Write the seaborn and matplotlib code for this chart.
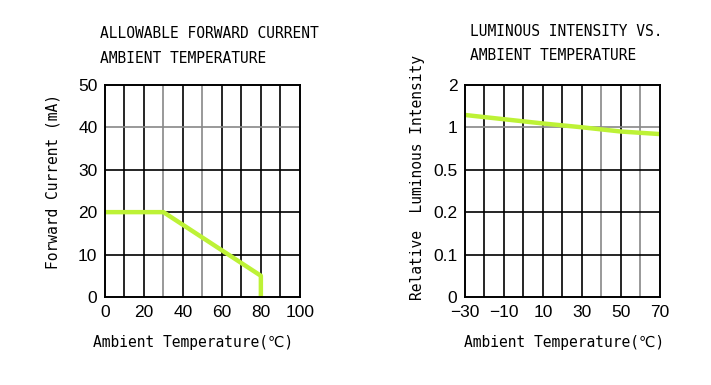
import numpy as np
import pandas as pd
import matplotlib
matplotlib.use("Agg")
import matplotlib.pyplot as plt
import seaborn as sns

# Allowable forward current vs ambient temperature
temp_if = [0, 30, 80, 80]
current_if = [20, 20, 5, 0]

# Relative luminous intensity vs ambient temperature
temp_iv = [-30, -10, 10, 30, 50, 70]
intensity_iv = [1.29, 1.19, 1.09, 1.0, 0.95, 0.92]

# y-axis of the right chart: uneven values on evenly spaced gridlines
iv_ticks = [0, 0.1, 0.2, 0.5, 1, 2]
iv_labels = ["0", "0.1", "0.2", "0.5", "1", "2"]

sns.set_style("white")
plt.rcParams['font.family'] = ['DejaVu Sans Mono', 'DejaVu Sans', 'Noto Sans CJK JP']
plt.rcParams['text.color'] = 'black'
plt.rcParams['axes.labelcolor'] = 'black'
plt.rcParams['xtick.color'] = 'black'
plt.rcParams['ytick.color'] = 'black'

line_color = '#bdf236'
txt = 10.5
tick_family = ['Liberation Sans', 'DejaVu Sans']

fig = plt.figure(figsize=(7.11, 3.85), dpi=100)
ax1 = fig.add_axes([0.1477, 0.2286, 0.274, 0.551])
ax2 = fig.add_axes([0.654, 0.2286, 0.274, 0.551])

df_if = pd.DataFrame({'temp': temp_if, 'current': current_if})
sns.lineplot(data=df_if, x='temp', y='current', ax=ax1, color=line_color,
             linewidth=3.2, sort=False, estimator=None, zorder=5)
ax1.set_xlim(0, 100)
ax1.set_ylim(0, 50)
ax1.set_xticks(range(0, 101, 20))
ax1.set_yticks(range(0, 51, 10))
for x in range(10, 100, 10):
    ax1.axvline(x, color='#888888' if x in (30, 50) else 'black', lw=1.2, zorder=1)
for y in range(10, 50, 10):
    ax1.axhline(y, color='#888888' if y == 40 else 'black', lw=1.2, zorder=1)
ax1.set_xlabel("Ambient Temperature(\u2103)", fontsize=txt)
ax1.set_ylabel("Forward Current (mA)", fontsize=txt)
ax1.xaxis.set_label_coords(0.454, -0.179)
ax1.yaxis.set_label_coords(-0.231, 0.545)
fig.text(0.1406, 0.912, "ALLOWABLE FORWARD CURRENT", fontsize=txt, va='center')
fig.text(0.1406, 0.849, "AMBIENT TEMPERATURE", fontsize=txt, va='center')


def fwd(v):
    return np.interp(v, iv_ticks, np.arange(len(iv_ticks)))


def inv(p):
    return np.interp(p, np.arange(len(iv_ticks)), iv_ticks)


ax2.set_yscale('function', functions=(fwd, inv))
df_iv = pd.DataFrame({'temp': temp_iv, 'intensity': intensity_iv})
sns.lineplot(data=df_iv, x='temp', y='intensity', ax=ax2, color=line_color,
             linewidth=3.2, estimator=None, zorder=5)
ax2.set_xlim(-30, 70)
ax2.set_ylim(0, 2)
ax2.set_xticks(range(-30, 71, 20))
ax2.set_xticklabels(["\u221230", "\u221210", "10", "30", "50", "70"])
ax2.set_yticks(iv_ticks)
ax2.set_yticklabels(iv_labels)
ax2.minorticks_off()
for x in range(-20, 70, 10):
    ax2.axvline(x, color='#888888' if x in (40, 60) else 'black', lw=1.2, zorder=1)
for y in iv_ticks[1:-1]:
    ax2.axhline(y, color='#888888' if y == 1 else 'black', lw=1.2, zorder=1)
ax2.set_xlabel("Ambient Temperature(\u2103)", fontsize=txt)
ax2.set_ylabel("Relative  Luminous Intensity", fontsize=txt)
ax2.xaxis.set_label_coords(0.51, -0.179)
ax2.yaxis.set_label_coords(-0.205, 0.564)
fig.text(0.661, 0.917, "LUMINOUS INTENSITY VS.", fontsize=txt, va='center')
fig.text(0.661, 0.855, "AMBIENT TEMPERATURE", fontsize=txt, va='center')

for ax in (ax1, ax2):
    ax.tick_params(length=0, pad=5.5)
    for lab in ax.get_xticklabels() + ax.get_yticklabels():
        lab.set_fontfamily(tick_family)
        lab.set_fontsize(12.5)
    for s in ax.spines.values():
        s.set_color('black')
        s.set_linewidth(1.4)
        s.set_zorder(6)

fig.savefig("out.png", dpi=100)
